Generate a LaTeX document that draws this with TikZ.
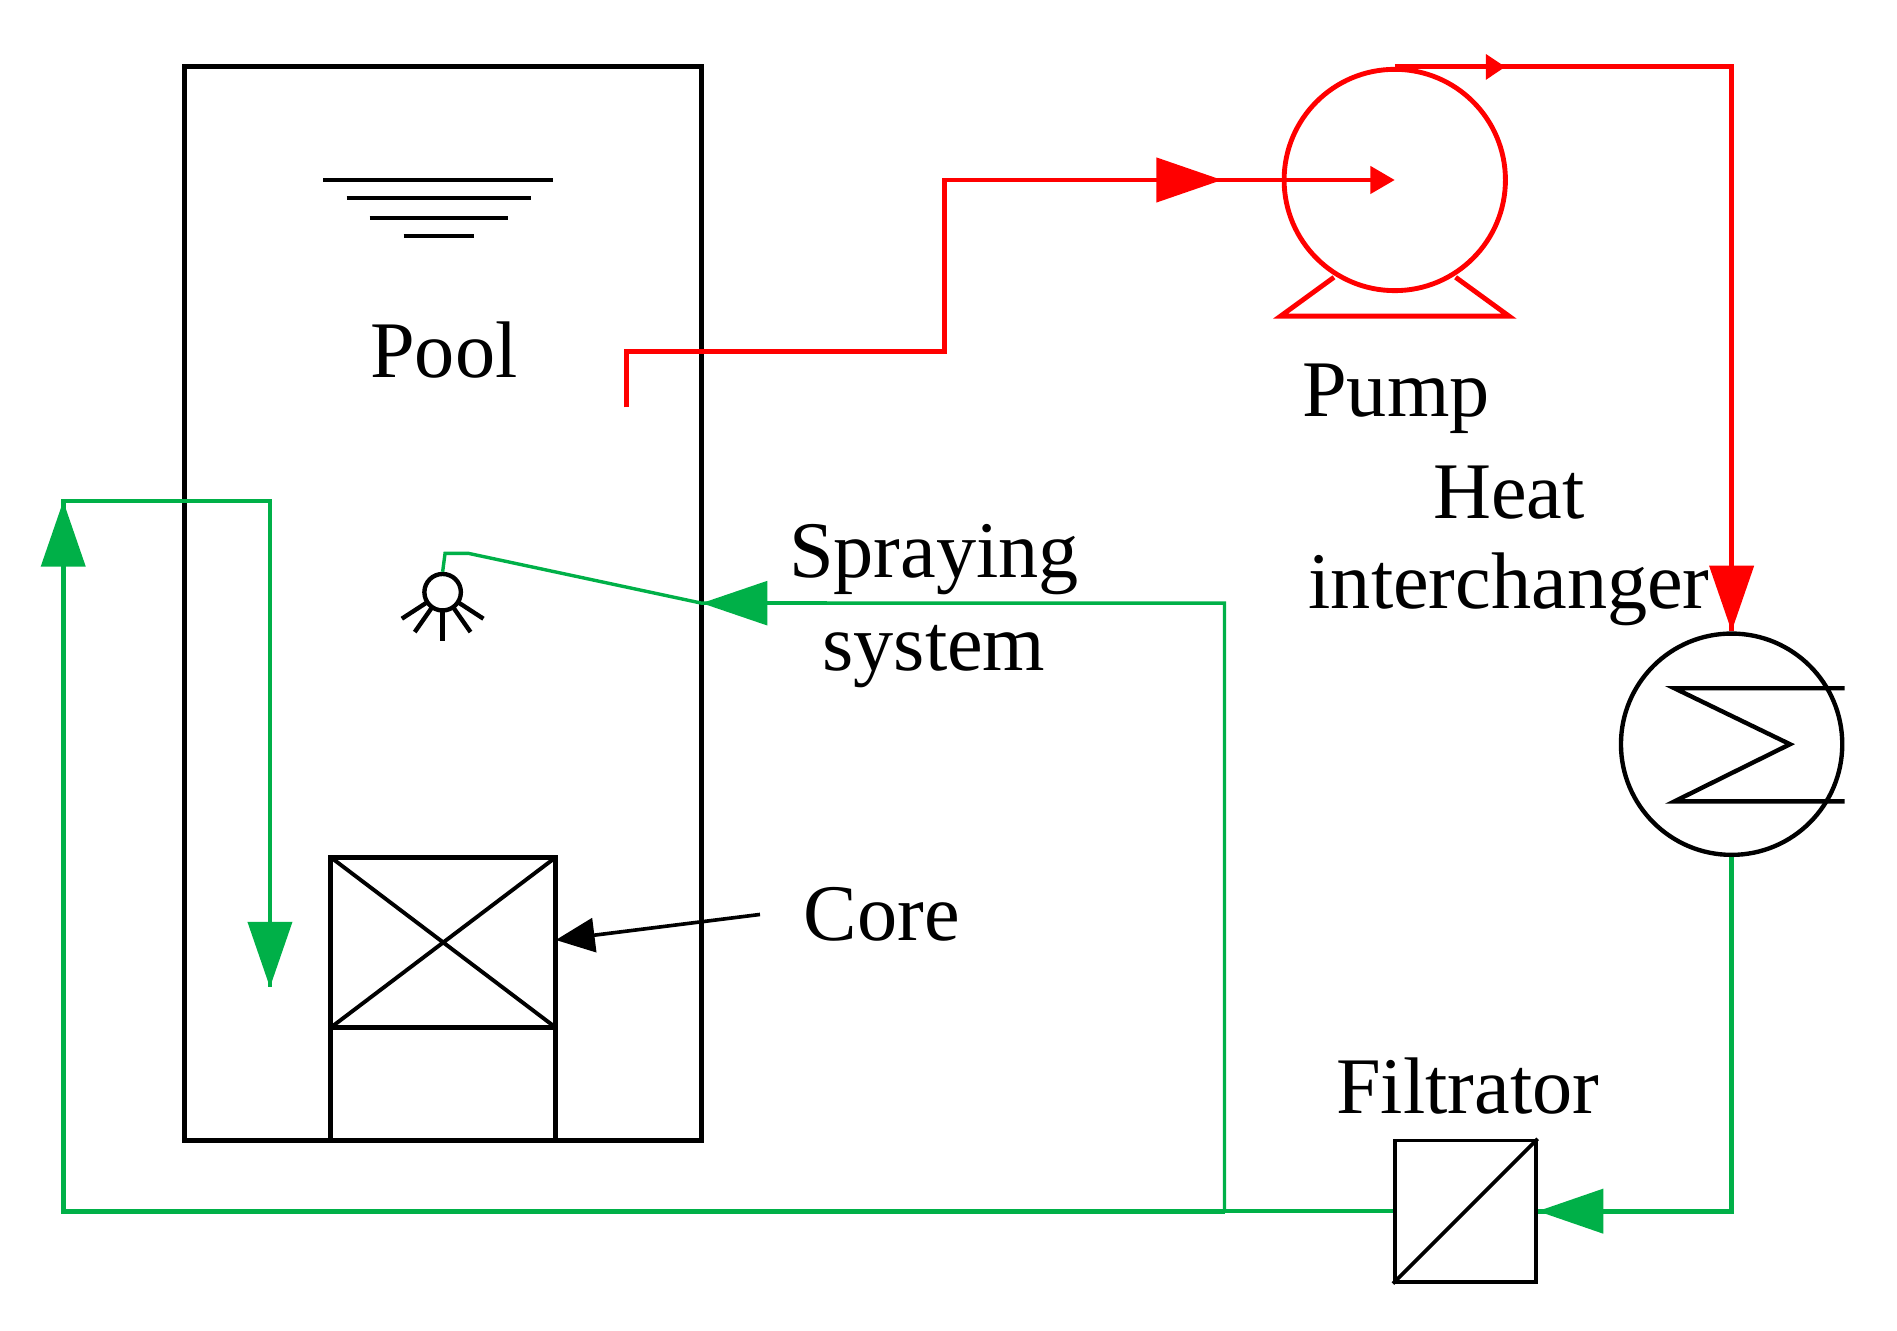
\documentclass[tikz,border=0pt]{standalone}
\usepackage{fontspec}
\setmainfont{Liberation Serif}
\usetikzlibrary{arrows.meta}
\definecolor{gr}{RGB}{0,176,72}
\definecolor{rd}{RGB}{255,0,0}
\begin{document}
\begin{tikzpicture}[x=0.5pt,y=-0.5pt,
  lbl/.style={font=\fontsize{33}{36}\selectfont,inner sep=0pt},
  blk/.style={line width=2pt,black},
  red/.style={line width=2pt,rd},
  grn/.style={line width=2pt,gr},
  grt/.style={line width=1.4pt,gr},
  big/.style={-{Triangle[length=27pt,width=18pt]}},
  mid/.style={-{Triangle[length=10pt,width=11pt]}},
  sm/.style={-{Triangle[length=8pt,width=10pt]}}]
\useasboundingbox (0,0) rectangle (1560,1094);
% pool
\draw[blk] (152,55) rectangle (577,938);
\draw[line width=1.6pt] (266,148)--(455,148) (285,163)--(437,163) (304,179)--(418,179) (332,194)--(390,194);
\node[lbl] (pool) at (365,288) {Pool};
% core
\draw[blk] (272,705) rectangle (457,845);
\draw[line width=1.6pt] (272,705)--(457,845) (272,845)--(457,705);
\draw[blk] (272,845)--(272,938) (457,845)--(457,938);
\node[lbl] (core) at (725,752) {Core};
\coordinate (ctip) at (457,773);
\draw[line width=1.5pt,-{Triangle[length=16pt,width=14pt]}] (625,752)--(ctip);
% pump
\node[draw=rd,line width=2pt,circle,minimum size=91pt,inner sep=0pt] (pump) at (1147,148) {};
\draw[red] (1097,228)--(1053,260)--(1241,260)--(1197,228);
\node[lbl] (pumpl) at (1148,328) {Pump};
\coordinate (out) at (515,335);
\draw[red] (out)--(515,289)--(777,289)--(777,148)--(1005,148);
\draw[red,big] (900,148)--(1005,148);
\draw[red,mid] (1005,148)--(pump.center);
% heat exchanger
\node[draw,line width=1.8pt,circle,minimum size=91pt,inner sep=0pt] (hx) at (1424,612) {};
\draw[line width=1.8pt] (1517,566)--(1377,566)--(1472,612)--(1377,659)--(1517,659);
\node[lbl] (heat) at (1241,405) {Heat};
\node[lbl] (inter) at (1241,485) {interchanger};
\draw[red] (pump.north)--(1424,55)--(hx.north);
\draw[red,sm] (1200,55)--(1238,55);
\draw[red,big] (1424,400)--(hx.north);
% filtrator
\node[draw,line width=1.5pt,minimum size=58pt,inner sep=0pt] (filt) at (1205,996) {};
\draw[line width=1.5pt] (filt.south west)--(filt.north east);
\node[lbl] (filtl) at (1207,893) {Filtrator};
\draw[grn] (hx.south)--(1424,996)--(filt.east);
\draw[grn,big] (1380,996)--(filt.east);
\coordinate (j) at (1007,996);
\draw[grt] (filt.west)--(j);
\draw[grn] (j)--(52,996)--(52,412)--(222,412)--(222,812);
\draw[grn,big] (52,520)--(52,412);
\draw[grn,big] (222,700)--(222,812);
% spraying
\node[lbl] (spr) at (768,460) {Spraying};
\node[lbl] (sys) at (768,540) {system};
\node[draw,line width=1.8pt,circle,minimum size=15pt,inner sep=0pt] (nz) at (364,487) {};
\foreach \a in {-90,-55,-125,-33,-147}
  \draw[line width=1.8pt] (nz.center)++(\a:8pt)--++(\a:12pt);
\draw[grt] (j)--(1007,496)--(577,496)--(385,455)--(366,455)--(nz.north);
\draw[grt,big] (680,496)--(577,496);
\end{tikzpicture}
\end{document}
